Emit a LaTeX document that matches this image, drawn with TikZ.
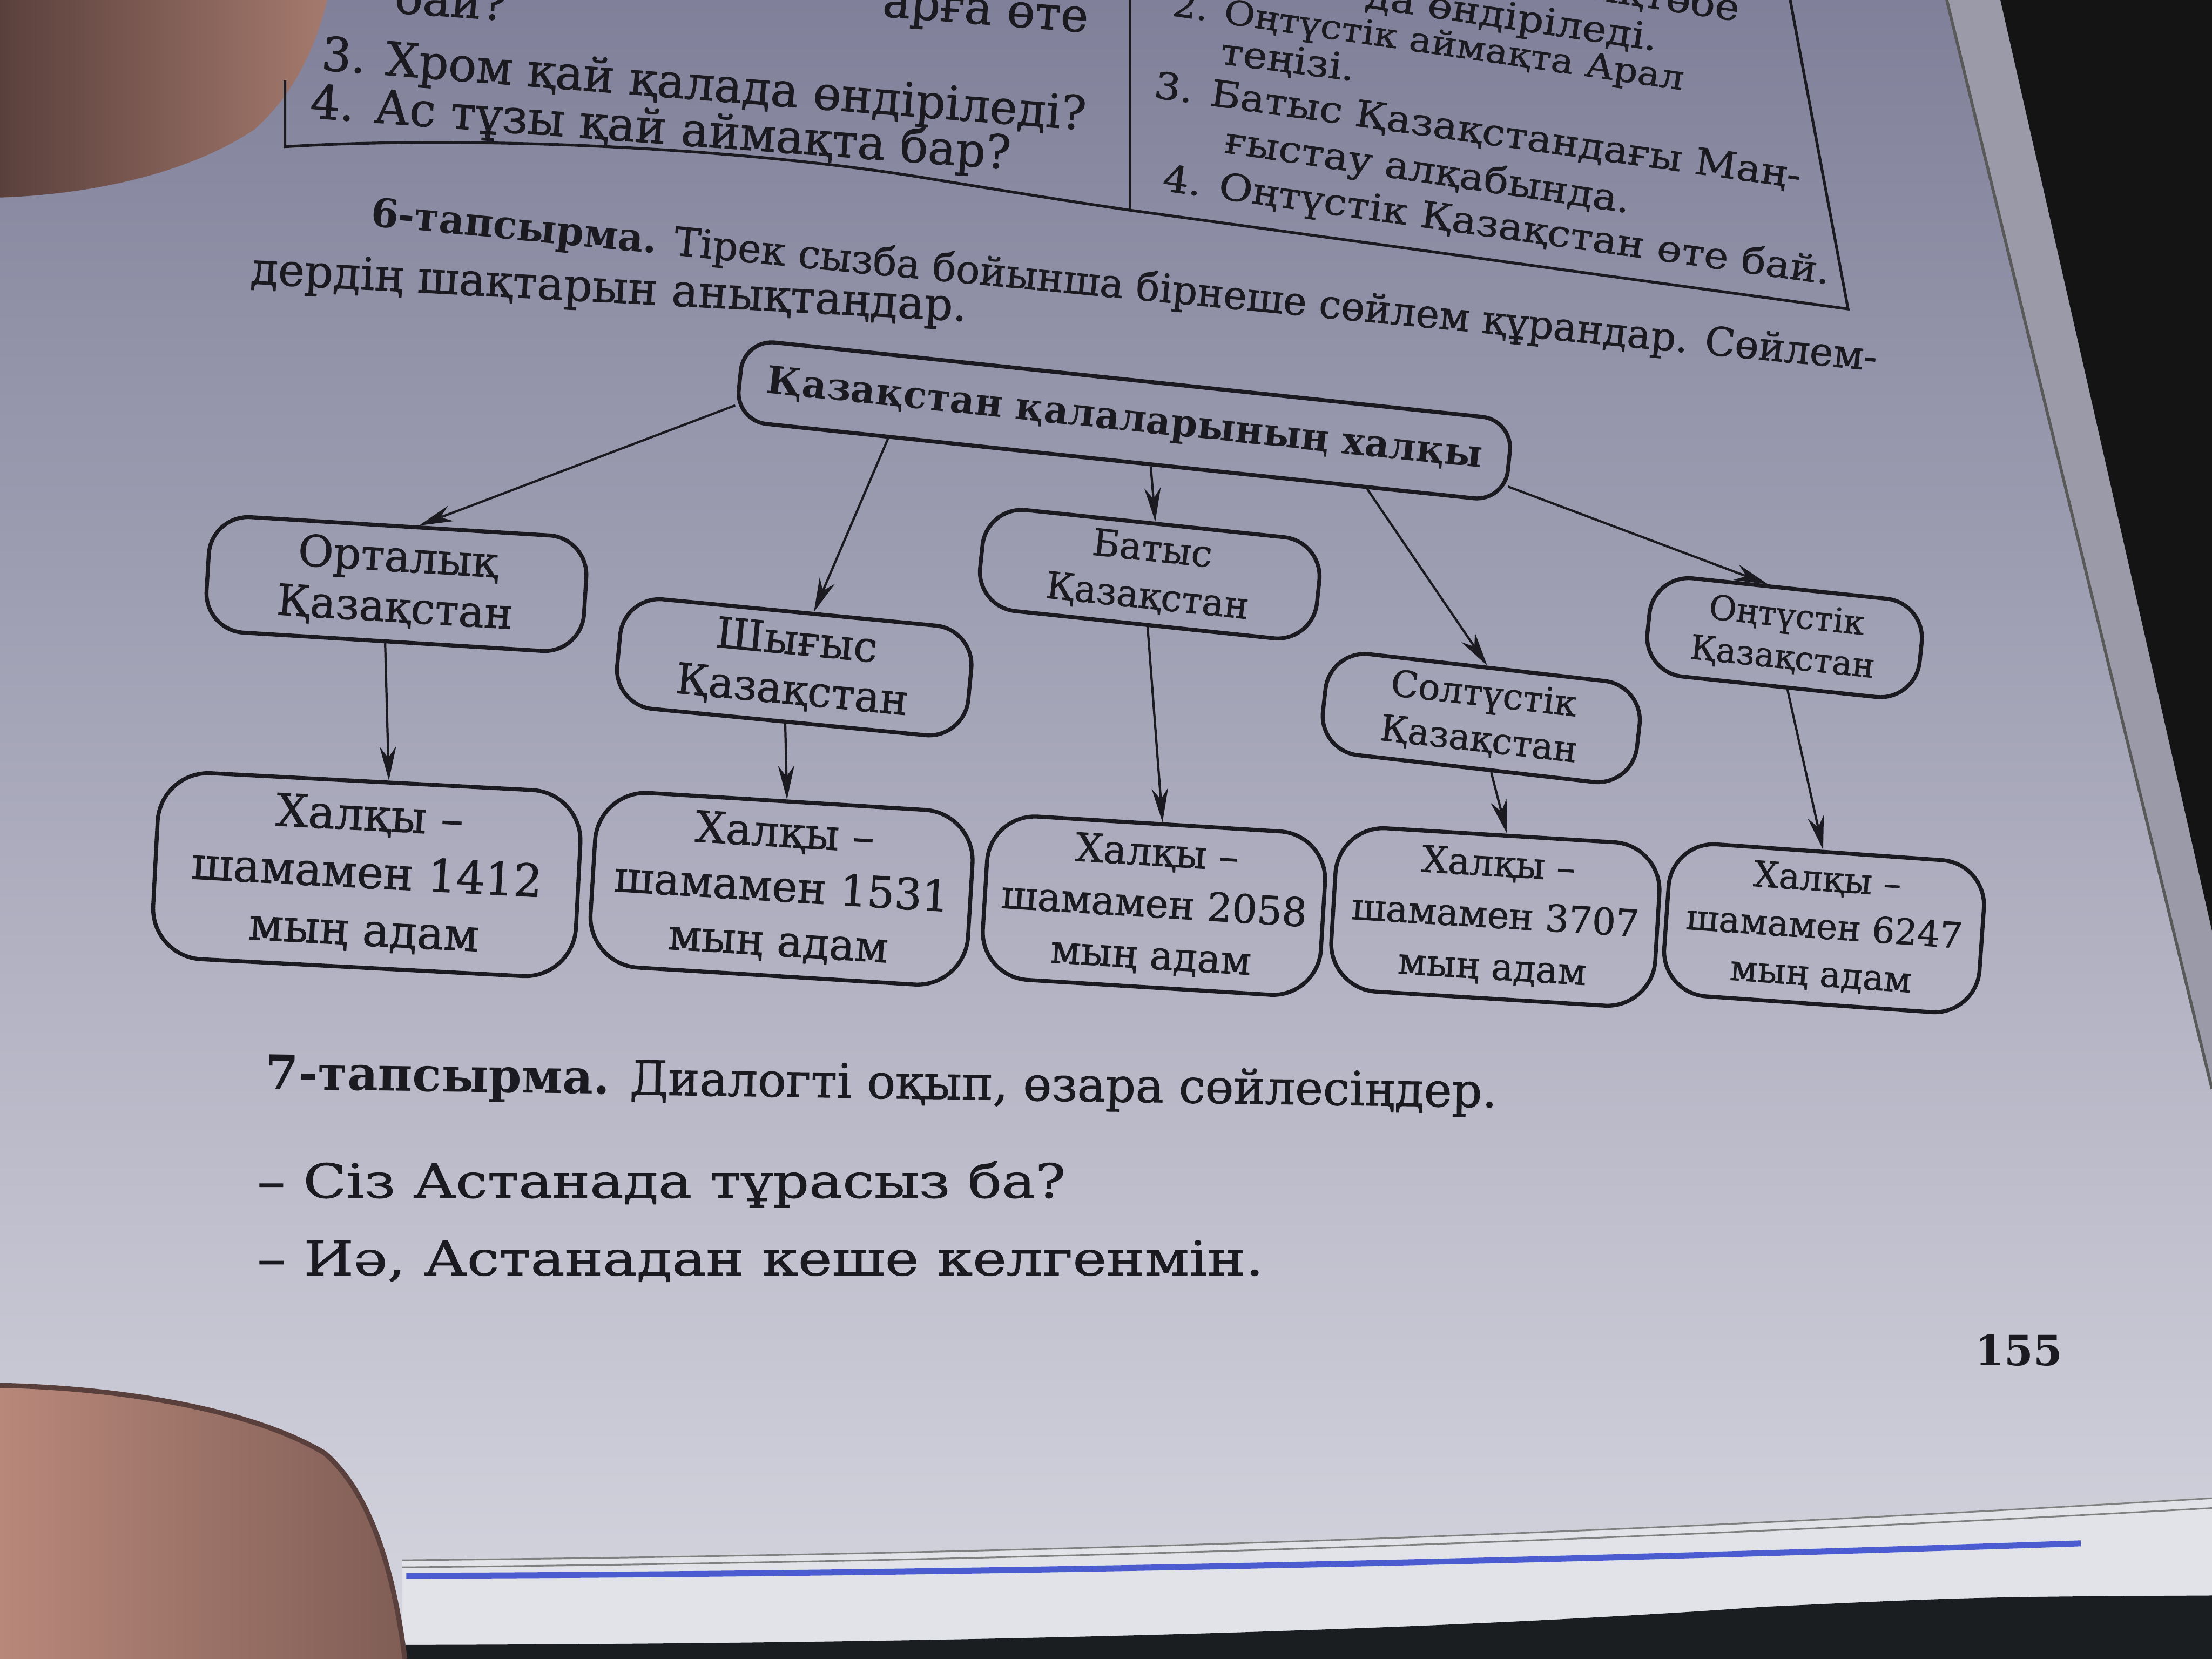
\documentclass[tikz,border=0pt]{standalone}
\usepackage{fontspec}
\setmainfont{DejaVu Serif}[UprightFeatures={FakeBold=1.1}]
\newfontfamily\wideA{DejaVu Serif}[FakeStretch=1.12, UprightFeatures={FakeBold=1.1}]
\newfontfamily\wideB{DejaVu Serif}[FakeStretch=1.2, UprightFeatures={FakeBold=1.1}]
\usetikzlibrary{arrows.meta,calc}

\definecolor{ink}{HTML}{1A1A20}
\definecolor{pagetop}{HTML}{80809A}
\definecolor{pagemid}{HTML}{B2B2C2}
\definecolor{pagebot}{HTML}{D6D6E0}
\definecolor{edgegray}{HTML}{9A9AA8}
\definecolor{skin}{HTML}{B8887A}
\definecolor{skindark}{HTML}{5A403C}
\definecolor{penblue}{HTML}{4A5CD0}
\definecolor{bottomdark}{HTML}{1B1E20}

\tikzset{
  box/.style={draw=ink, line width=2pt, rounded corners=0.7cm, align=center, inner sep=0pt, text=ink},
  arr/.style={draw=ink, line width=1.15pt, -{Stealth[length=6mm,width=2.9mm]}},
  txt/.style={text=ink, anchor=base west, inner sep=0pt},
  txte/.style={text=ink, anchor=base east, inner sep=0pt},
  frame/.style={draw=ink, line width=1.4pt},
}

\begin{document}
\begin{tikzpicture}[x=0.025cm,y=-0.025cm]
\useasboundingbox (0,0) rectangle (1568,1176);
\begin{scope}
\clip (0,0) rectangle (1568,1176);
% page
\shade[top color=pagetop, middle color=pagemid, bottom color=pagebot] (0,0) rectangle (1568,1176);
% right page edge and dark corner
\fill[edgegray] (1380,0) -- (1418,0) -- (1568,660) -- (1568,772) -- cycle;
\fill[black!92] (1418,0) -- (1568,0) -- (1568,660) -- cycle;
\draw[line width=1.5pt, black!65] (1380,0) -- (1568,772);
% bottom page edges
\fill[pagebot!70!white] (285,1106) .. controls (700,1102) and (1100,1090) .. (1568,1062) -- (1568,1176) -- (285,1176) -- cycle;
\draw[gray, line width=0.8pt] (285,1106) .. controls (700,1102) and (1100,1090) .. (1568,1062);
\draw[gray, line width=0.8pt] (285,1111) .. controls (700,1107) and (1100,1095) .. (1568,1069);
\draw[penblue, line width=3pt] (288,1117) .. controls (600,1116) and (1000,1110) .. (1475,1094);
\fill[bottomdark] (285,1166) .. controls (800,1165) and (1100,1150) .. (1250,1139) .. controls (1400,1132) .. (1568,1131) -- (1568,1176) -- (285,1176) -- cycle;
% thumb bottom left
\shade[left color=skin, right color=skindark!60!skin] (0,982) .. controls (90,984) and (180,1000) .. (230,1030) .. controls (265,1060) and (280,1120) .. (287,1176) -- (0,1176) -- cycle;
\draw[skindark, line width=2.5pt] (0,982) .. controls (90,984) and (180,1000) .. (230,1030) .. controls (265,1060) and (280,1120) .. (287,1176);
% finger top left
\shade[left color=skindark, right color=skin!80!skindark] (0,0) -- (232,0) .. controls (222,40) and (205,70) .. (180,92) .. controls (130,125) and (60,138) .. (0,140) -- cycle;
\end{scope}

% top exercise box frame
\draw[frame] (202,57) -- (202,104) .. controls (330,96) and (520,104) .. (655,126) .. controls (710,135) and (760,143) .. (801,149) -- (1310,219) -- (1269,0);
\draw[frame] (801,0) -- (801,149);

% top box text, partly cut at the top edge
\begin{scope}
\clip (0,0) rectangle (1568,1176);
\node[txt, rotate=-4, font=\fontsize{23.5}{28}\selectfont] (la) at (279,9) {бай?};
\node[txte, rotate=-4.5, font=\fontsize{23.5}{28}\selectfont] (lb) at (771,23) {арға өте};
\node[txte, rotate=-8.5, font=\wideA\fontsize{18.5}{22}\selectfont] (ra) at (1174,36) {да өндіріледі.};
\node[txte, rotate=-8.5, font=\wideA\fontsize{18.5}{22}\selectfont] (rb) at (1232,15) {Ақтөбе};
\node[txt, rotate=-8.3, font=\wideA\fontsize{17}{21}\selectfont] (rc) at (830,11) {2. Оңтүстік аймақта Арал};
\end{scope}
\node[txt, rotate=-4.5, font=\fontsize{23.5}{28}\selectfont] (lc) at (227,49.5) {3. Хром қай қалада өндіріледі?};
\node[txt, rotate=-4.2, font=\fontsize{23.5}{28}\selectfont] (ld) at (219,83.5) {4. Ас тұзы қай аймақта бар?};
\node[txt, rotate=-7.4, font=\wideA\fontsize{18.5}{22}\selectfont] (rd) at (864,45) {теңізі.};
\node[txt, rotate=-8, font=\wideA\fontsize{18.5}{22}\selectfont] (re) at (817,69) {3. Батыс Қазақстандағы Маң-};
\node[txt, rotate=-8.5, font=\wideA\fontsize{18.5}{22}\selectfont] (rf) at (867,108) {ғыстау алқабында.};
\node[txt, rotate=-8, font=\wideA\fontsize{18.5}{22}\selectfont] (rg) at (823,135) {4. Оңтүстік Қазақстан өте бай.};

% task 6
\node[txt, rotate=-5.5, font=\fontsize{19.9}{24}\selectfont] (t6a) at (262,160) {\textbf{6-тапсырма.} Тірек сызба бойынша бірнеше сөйлем құрандар. Сөйлем-};
\node[txt, rotate=-3, font=\fontsize{22.5}{27}\selectfont] (t6b) at (177,201) {дердің шақтарын анықтаңдар.};

% diagram
\node[box, rotate=-6, minimum width=13.7cm, minimum height=1.45cm, rounded corners=0.55cm, font=\bfseries\fontsize{19.2}{23}\selectfont] (main) at (797,298) {Қазақстан қалаларының халқы};

\node[box, rotate=-3.5, minimum width=6.7cm, minimum height=2.05cm, font=\fontsize{21.7}{25.5}\selectfont] (ort) at (281,414) {Орталық\\Қазақстан};
\node[box, rotate=-5.5, minimum width=6.25cm, minimum height=1.95cm, font=\fontsize{21.4}{25}\selectfont] (shy) at (563,473) {Шығыс\\Қазақстан};
\node[box, rotate=-6, minimum width=6.0cm, minimum height=1.8cm, font=\fontsize{18.7}{24}\selectfont] (bat) at (815,407) {Батыс\\Қазақстан};
\node[box, rotate=-6.5, minimum width=5.6cm, minimum height=1.8cm, font=\fontsize{18.2}{23}\selectfont] (sol) at (1050,509) {Солтүстік\\Қазақстан};
\node[box, rotate=-6, minimum width=4.85cm, minimum height=1.75cm, font=\fontsize{17}{21}\selectfont] (ont) at (1265,452) {Оңтүстік\\Қазақстан};

\node[box, rotate=-3, minimum width=7.5cm, minimum height=3.3cm, rounded corners=0.9cm, font=\fontsize{22.7}{29}\selectfont] (p1) at (260,620) {Халқы –\\шамамен 1412\\мың адам};
\node[box, rotate=-3.5, minimum width=6.7cm, minimum height=3.1cm, rounded corners=0.9cm, font=\fontsize{21.7}{27.5}\selectfont] (p2) at (554,630) {Халқы –\\шамамен 1531\\мың адам};
\node[box, rotate=-3.5, minimum width=6.0cm, minimum height=2.9cm, rounded corners=0.85cm, font=\fontsize{19.8}{26}\selectfont] (p3) at (818,642) {Халқы –\\шамамен 2058\\мың адам};
\node[box, rotate=-3.5, minimum width=5.75cm, minimum height=2.9cm, rounded corners=0.85cm, font=\fontsize{18.6}{26}\selectfont] (p4) at (1060,650) {Халқы –\\шамамен 3707\\мың адам};
\node[box, rotate=-4, minimum width=5.6cm, minimum height=2.7cm, rounded corners=0.8cm, font=\fontsize{17.9}{24}\selectfont] (p5) at (1293,658) {Халқы –\\шамамен 6247\\мың адам};

% arrows from main
\draw[arr] ($(main.west)!0.6!(main.south west)$) -- ($(ort.north west)!0.55!(ort.north east)$);
\draw[arr] ($(main.south west)!0.2!(main.south east)$) -- ($(shy.north west)!0.54!(shy.north east)$);
\draw[arr] ($(main.south west)!0.54!(main.south east)$) -- ($(bat.north west)!0.5!(bat.north east)$);
\draw[arr] ($(main.south west)!0.82!(main.south east)$) -- ($(sol.north west)!0.5!(sol.north east)$);
\draw[arr] ($(main.east)!0.6!(main.south east)$) -- ($(ont.north west)!0.42!(ont.north east)$);
% arrows to population boxes
\draw[arr] ($(ort.south west)!0.48!(ort.south east)$) -- ($(p1.north west)!0.54!(p1.north east)$);
\draw[arr] ($(shy.south west)!0.49!(shy.south east)$) -- ($(p2.north west)!0.5!(p2.north east)$);
\draw[arr] ($(bat.south west)!0.51!(bat.south east)$) -- ($(p3.north west)!0.51!(p3.north east)$);
\draw[arr] ($(sol.south west)!0.55!(sol.south east)$) -- ($(p4.north west)!0.52!(p4.north east)$);
\draw[arr] ($(ont.south west)!0.53!(ont.south east)$) -- ($(p5.north west)!0.48!(p5.north east)$);

% task 7 and dialogue
\node[txt, rotate=-0.85, font=\fontsize{23.8}{28}\selectfont] (t7) at (188,772) {\textbf{7-тапсырма.} Диалогті оқып, өзара сөйлесіңдер.};
\node[txt, font=\wideB\fontsize{23.7}{28}\selectfont] (d1) at (182,849) {– Сіз Астанада тұрасыз ба?};
\node[txt, font=\wideB\fontsize{24}{28}\selectfont] (d2) at (182,904) {– Иә, Астанадан кеше келгенмін.};
\node[txt, font=\bfseries\fontsize{21}{25}\selectfont] (pg) at (1400,968) {155};
\end{tikzpicture}
\end{document}
